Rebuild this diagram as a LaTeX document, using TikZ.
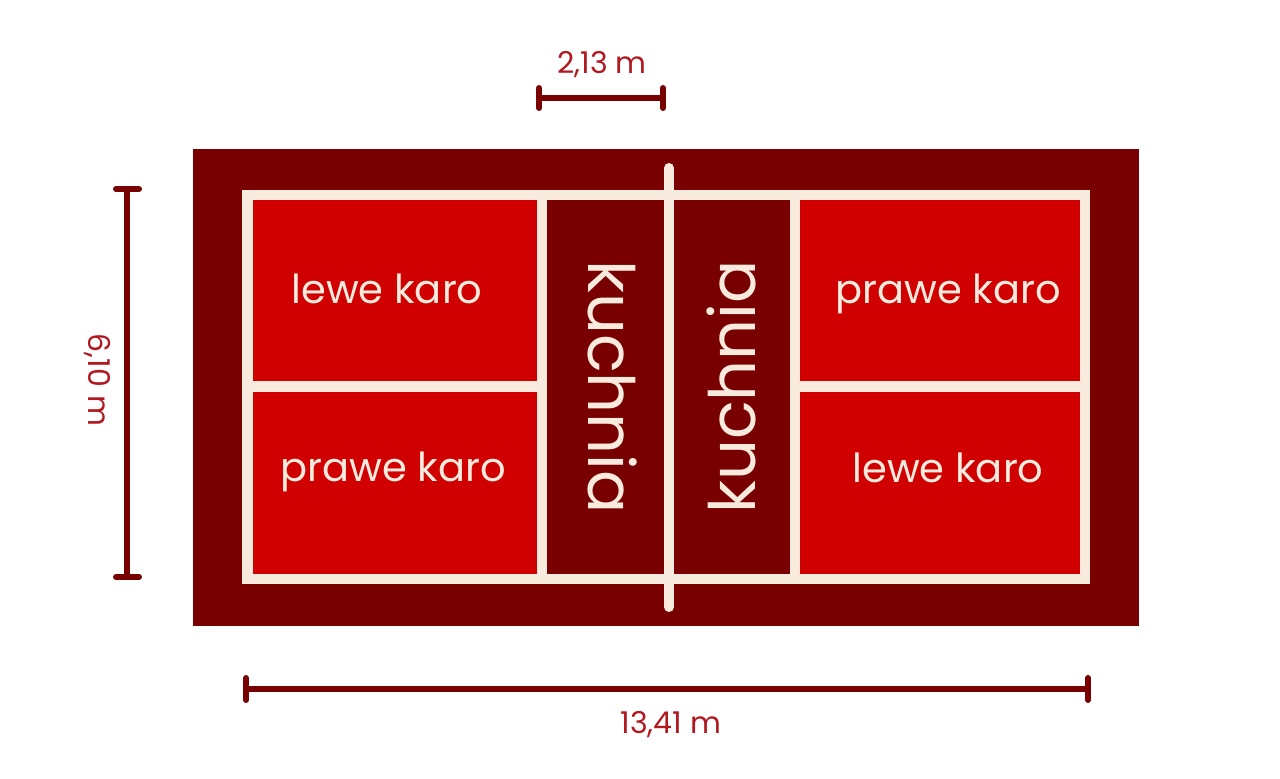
\documentclass[tikz,border=0pt]{standalone}
\usepackage{fontspec}
\setmainfont{Poppins}
\definecolor{kort}{RGB}{120,0,0}
\definecolor{pole}{RGB}{208,0,0}
\definecolor{linia}{RGB}{248,235,222}
\definecolor{wymiar}{RGB}{178,24,32}
\begin{document}
\begin{tikzpicture}[x=1pt,y=-1pt,
	karo/.style={font=\fontsize{40}{40}\selectfont,text=linia,anchor=base},
	kuchnia/.style={font=\fontsize{64}{64}\selectfont,text=linia,anchor=base},
	miara/.style={font=\fontsize{30}{30}\selectfont,text=wymiar,anchor=base},
	bar/.style={draw=kort,line width=6pt,line cap=round}]
	\useasboundingbox (0,0) rectangle (1280,779);
	% court
	\fill[kort] (193,149) rectangle (1139,626);
	\fill[linia] (242,190) rectangle (1090,584);
	\fill[pole] (253,200) rectangle (537,381);
	\fill[pole] (253,392) rectangle (537,574);
	\fill[kort] (547,200) rectangle (664,574);
	\fill[kort] (674,200) rectangle (790,574);
	\fill[pole] (800,200) rectangle (1080,381);
	\fill[pole] (800,392) rectangle (1080,574);
	% net
	\draw[linia,line width=10pt,line cap=round] (669,168) -- (669,607);
	\node[karo] (lk1) at (387,303) {lewe karo};
	\node[karo] (pk1) at (393,481) {prawe karo};
	\node[karo] (pk2) at (948,303) {prawe karo};
	\node[karo] (lk2) at (948,482) {lewe karo};
	\node[kuchnia,rotate=-90] (ku1) at (588,387) {kuchnia};
	\node[kuchnia,rotate=90] (ku2) at (755,387) {kuchnia};
	% dimensions
	\coordinate (g1) at (539,98);
	\coordinate (g2) at (663,98);
	\draw[bar] (g1) -- (g2);
	\draw[bar] (g1) ++(0,-10) -- ++(0,20);
	\draw[bar] (g2) ++(0,-10) -- ++(0,20);
	\node[miara] (wg) at (602,73) {2,13 m};
	\coordinate (l1) at (127,189);
	\coordinate (l2) at (127,577);
	\draw[bar] (l1) -- (l2);
	\draw[bar] (l1) ++(-11,0) -- ++(23,0);
	\draw[bar] (l2) ++(-11,0) -- ++(23,0);
	\node[miara,rotate=-90] (wl) at (88,380) {6,10 m};
	\coordinate (d1) at (246,689);
	\coordinate (d2) at (1088,689);
	\draw[bar] (d1) -- (d2);
	\draw[bar] (d1) ++(0,-11) -- ++(0,22);
	\draw[bar] (d2) ++(0,-11) -- ++(0,22);
	\node[miara] (wd) at (671,733) {13,41 m};
\end{tikzpicture}
\end{document}
